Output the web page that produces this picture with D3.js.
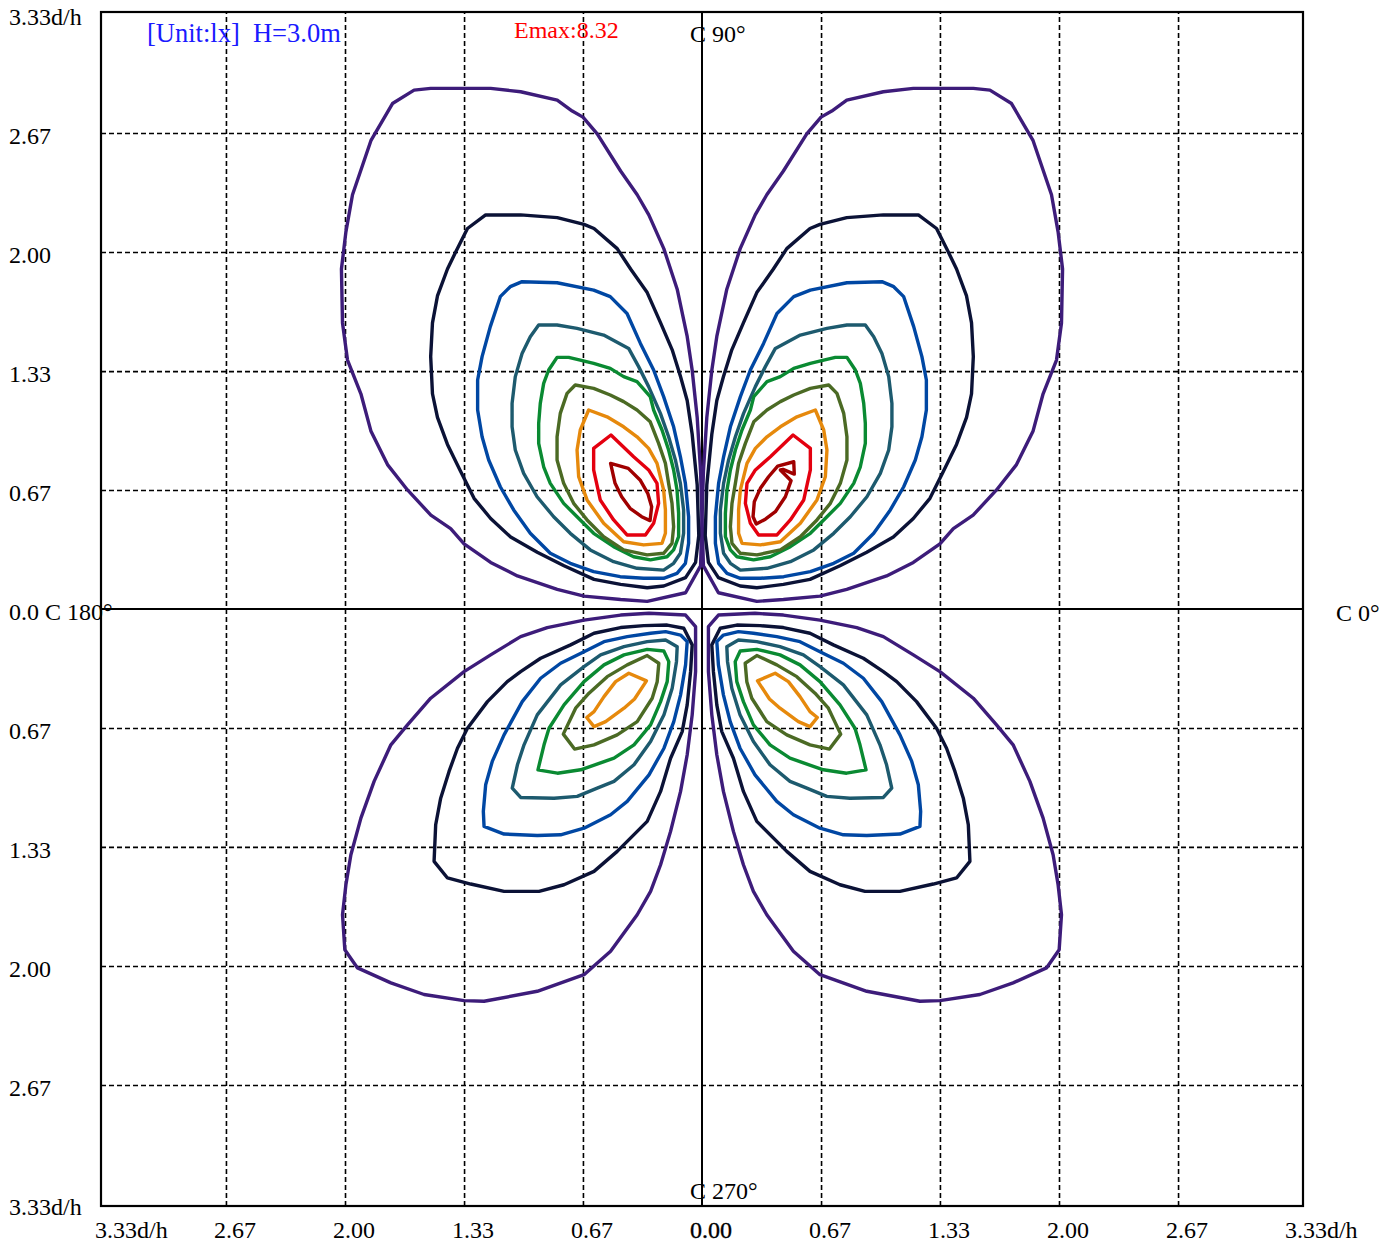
<!DOCTYPE html>
<html>
<head>
<meta charset="utf-8">
<script src="https://cdn.jsdelivr.net/npm/d3@7"></script>
<style>
  body { margin: 0; background: #fff; }
  svg text { font-family: "Liberation Serif", "Times New Roman", serif; font-size: 24px; }
</style>
</head>
<body>
<div class="iso_chart"></div>
<script>
// axis ticks (d/h)
var tickValues = [-3.333, -2.667, -2.0, -1.333, -0.667, 0, 0.667, 1.333, 2.0, 2.667, 3.333];
var xTickLabels = ["3.33d/h", "2.67", "2.00", "1.33", "0.67", "0.00", "0.67", "1.33", "2.00", "2.67", "3.33d/h"];
var yTickLabels = ["3.33d/h", "2.67", "2.00", "1.33", "0.67", "0.0 C 180°", "0.67", "1.33", "2.00", "2.67", "3.33d/h"];

var unitText = "[Unit:lx]  H=3.0m";
var emaxText = "Emax:8.32";
var cLabels = ["C 0°", "C 90°", "C 270°"];

// upper lobe (C 90 side), right half, outer -> inner, [x, y] in d/h
var upPurple = [[0.008,0.242],[0.092,0.091],[0.307,0.043],[0.456,0.053],[0.661,0.072],[0.811,0.110],[1.034,0.185],[1.184,0.261],[1.333,0.365],[1.408,0.450],[1.519,0.526],[1.650,0.667],[1.762,0.809],[1.855,0.998],[1.911,1.206],[1.986,1.395],[2.014,1.603],[2.020,1.905],[1.995,2.113],[1.958,2.321],[1.855,2.624],[1.734,2.832],[1.613,2.907],[1.520,2.917],[1.184,2.917],[1.016,2.898],[0.811,2.851],[0.727,2.790],[0.667,2.756],[0.587,2.662],[0.456,2.454],[0.363,2.321],[0.298,2.208],[0.214,2.019],[0.139,1.792],[0.083,1.527],[0.055,1.338],[0.027,1.074],[0.008,0.771],[0.0,0.507]];
var upNavy = [[0.605,2.132],[0.661,2.155],[0.811,2.193],[1.016,2.208],[1.212,2.208],[1.314,2.132],[1.380,2.000],[1.426,1.905],[1.482,1.754],[1.510,1.603],[1.520,1.414],[1.510,1.206],[1.482,1.074],[1.426,0.922],[1.352,0.771],[1.277,0.620],[1.184,0.507],[1.072,0.403],[0.923,0.318],[0.773,0.242],[0.605,0.166],[0.456,0.138],[0.307,0.119],[0.214,0.129],[0.092,0.176],[0.036,0.261],[0.018,0.412],[0.027,0.696],[0.055,0.979],[0.083,1.168],[0.120,1.301],[0.167,1.452],[0.232,1.603],[0.307,1.773],[0.400,1.905],[0.475,2.019]];
var upBlue = [[0.514,1.750],[0.607,1.787],[0.812,1.828],[1.008,1.834],[1.074,1.806],[1.130,1.750],[1.186,1.582],[1.232,1.414],[1.257,1.283],[1.257,1.115],[1.232,0.965],[1.195,0.835],[1.130,0.685],[1.055,0.555],[0.962,0.424],[0.850,0.312],[0.738,0.256],[0.607,0.209],[0.458,0.181],[0.327,0.172],[0.215,0.172],[0.140,0.200],[0.093,0.256],[0.075,0.368],[0.075,0.517],[0.093,0.704],[0.121,0.853],[0.159,1.021],[0.215,1.190],[0.271,1.339],[0.345,1.488],[0.420,1.656]];
var upTeal = [[0.411,1.460],[0.551,1.535],[0.700,1.572],[0.812,1.591],[0.915,1.591],[0.962,1.526],[1.008,1.432],[1.046,1.302],[1.064,1.152],[1.064,1.021],[1.046,0.891],[0.999,0.760],[0.924,0.629],[0.831,0.517],[0.738,0.424],[0.626,0.331],[0.495,0.265],[0.364,0.228],[0.215,0.218],[0.159,0.256],[0.121,0.312],[0.103,0.424],[0.103,0.555],[0.121,0.704],[0.149,0.835],[0.187,0.965],[0.233,1.096],[0.299,1.246],[0.355,1.358]];
var upGreen = [[0.290,1.190],[0.364,1.274],[0.439,1.302],[0.514,1.348],[0.607,1.376],[0.682,1.395],[0.747,1.410],[0.812,1.410],[0.859,1.339],[0.887,1.264],[0.906,1.152],[0.915,1.040],[0.915,0.928],[0.887,0.797],[0.850,0.704],[0.775,0.592],[0.700,0.517],[0.607,0.424],[0.495,0.349],[0.383,0.293],[0.289,0.275],[0.196,0.293],[0.159,0.331],[0.131,0.405],[0.131,0.536],[0.140,0.667],[0.159,0.779],[0.187,0.891],[0.224,1.003],[0.271,1.115]];
var upOlive = [[0.290,1.049],[0.364,1.115],[0.439,1.162],[0.514,1.199],[0.607,1.236],[0.710,1.255],[0.756,1.208],[0.794,1.096],[0.812,0.965],[0.812,0.835],[0.775,0.704],[0.719,0.592],[0.644,0.499],[0.551,0.405],[0.439,0.331],[0.308,0.303],[0.215,0.312],[0.168,0.368],[0.159,0.461],[0.168,0.592],[0.187,0.704],[0.205,0.816],[0.243,0.928]];
var upOrange = [[0.299,0.900],[0.364,0.965],[0.439,1.021],[0.532,1.077],[0.635,1.115],[0.682,1.003],[0.700,0.891],[0.691,0.741],[0.644,0.611],[0.551,0.480],[0.439,0.377],[0.327,0.359],[0.224,0.368],[0.205,0.424],[0.205,0.555],[0.215,0.667],[0.252,0.816]];
var upRed = [[0.383,0.853],[0.510,0.975],[0.607,0.900],[0.607,0.779],[0.570,0.611],[0.495,0.499],[0.420,0.415],[0.317,0.415],[0.271,0.480],[0.243,0.592],[0.252,0.704],[0.299,0.779]];
var upDarkRedRight = [[0.439,0.779],[0.499,0.719],[0.467,0.629],[0.411,0.545],[0.355,0.503],[0.304,0.476],[0.286,0.517],[0.293,0.601],[0.327,0.676],[0.373,0.741],[0.424,0.801],[0.514,0.825],[0.517,0.756],[0.454,0.782]];
// left half innermost ring (distance from the C90-C270 axis)
var upDarkRedLeft = [[0.512,0.816],[0.413,0.788],[0.347,0.723],[0.304,0.648],[0.282,0.573],[0.291,0.495],[0.338,0.517],[0.403,0.564],[0.450,0.629],[0.487,0.704]];

// lower lobe (C 270 side), right half, outer -> inner
var lowPurple = [[0.036,-0.099],[0.092,-0.034],[0.297,-0.024],[0.456,-0.034],[0.661,-0.062],[0.867,-0.104],[1.016,-0.155],[1.184,-0.257],[1.333,-0.351],[1.520,-0.500],[1.650,-0.649],[1.743,-0.761],[1.837,-0.966],[1.911,-1.172],[1.967,-1.377],[1.995,-1.545],[2.014,-1.713],[2.001,-1.909],[1.930,-2.011],[1.743,-2.095],[1.557,-2.160],[1.333,-2.194],[1.221,-2.198],[0.923,-2.142],[0.661,-2.049],[0.512,-1.918],[0.363,-1.713],[0.288,-1.582],[0.232,-1.433],[0.176,-1.246],[0.120,-1.022],[0.083,-0.817],[0.055,-0.593],[0.036,-0.351]];
var lowNavy = [[0.055,-0.201],[0.102,-0.108],[0.195,-0.090],[0.326,-0.093],[0.456,-0.104],[0.605,-0.136],[0.736,-0.201],[0.904,-0.276],[1.016,-0.351],[1.091,-0.407],[1.202,-0.519],[1.314,-0.668],[1.370,-0.780],[1.417,-0.910],[1.464,-1.060],[1.492,-1.209],[1.501,-1.414],[1.426,-1.507],[1.296,-1.541],[1.109,-1.582],[0.913,-1.582],[0.773,-1.545],[0.605,-1.470],[0.475,-1.358],[0.307,-1.190],[0.232,-1.022],[0.176,-0.836],[0.111,-0.687],[0.083,-0.537],[0.064,-0.351]];
var lowBlue = [[0.083,-0.183],[0.120,-0.146],[0.204,-0.127],[0.288,-0.136],[0.419,-0.155],[0.549,-0.183],[0.661,-0.239],[0.792,-0.304],[0.904,-0.388],[1.007,-0.519],[1.109,-0.705],[1.175,-0.854],[1.212,-0.985],[1.225,-1.134],[1.221,-1.218],[1.109,-1.261],[0.923,-1.269],[0.792,-1.265],[0.661,-1.228],[0.512,-1.153],[0.419,-1.078],[0.297,-0.929],[0.213,-0.780],[0.158,-0.631],[0.120,-0.481],[0.092,-0.313]];
var lowTeal = [[0.139,-0.211],[0.204,-0.174],[0.307,-0.183],[0.437,-0.211],[0.568,-0.257],[0.661,-0.323],[0.792,-0.425],[0.923,-0.593],[0.997,-0.761],[1.034,-0.873],[1.063,-1.004],[1.016,-1.056],[0.829,-1.060],[0.699,-1.050],[0.587,-1.004],[0.493,-0.966],[0.381,-0.873],[0.288,-0.743],[0.213,-0.593],[0.167,-0.444],[0.143,-0.295]];
var lowGreen = [[0.186,-0.295],[0.214,-0.235],[0.307,-0.226],[0.437,-0.257],[0.549,-0.313],[0.661,-0.407],[0.773,-0.537],[0.857,-0.668],[0.885,-0.761],[0.919,-0.901],[0.810,-0.920],[0.680,-0.901],[0.493,-0.836],[0.381,-0.761],[0.288,-0.649],[0.232,-0.519],[0.195,-0.407]];
var lowOlive = [[0.242,-0.304],[0.307,-0.261],[0.419,-0.313],[0.531,-0.379],[0.633,-0.472],[0.708,-0.556],[0.777,-0.701],[0.714,-0.785],[0.605,-0.761],[0.475,-0.705],[0.363,-0.631],[0.279,-0.500],[0.251,-0.407]];
var lowOrange = [[0.311,-0.403],[0.410,-0.360],[0.484,-0.407],[0.549,-0.491],[0.605,-0.575],[0.646,-0.608],[0.605,-0.659],[0.540,-0.631],[0.437,-0.556],[0.378,-0.504]];

var levelColors = ["#3d1c7a", "#0b1236", "#0047a3", "#1d5a6e", "#0a8a32", "#4b6a24", "#e6890c", "#e4000f", "#a00000"];

var upperRight = [upPurple, upNavy, upBlue, upTeal, upGreen, upOlive, upOrange, upRed, upDarkRedRight];
var upperLeft = [upPurple, upNavy, upBlue, upTeal, upGreen, upOlive, upOrange, upRed, upDarkRedLeft];
var lowerHalf = [lowPurple, lowNavy, lowBlue, lowTeal, lowGreen, lowOlive, lowOrange];

var W = 1392, H = 1246;
var plot = { left: 101, right: 1303, top: 12, bottom: 1206 };

var svg = d3
  .select(".iso_chart")
  .append("svg")
  .attr("width", W)
  .attr("height", H);

// 178.5 px per d/h, frame runs a little past the 3.33 tick
var x = d3.scaleLinear().domain([-3.367, 3.367]).range([plot.left, plot.right]);
var xm = d3.scaleLinear().domain([3.367, -3.367]).range([plot.left, plot.right]);
var y = d3.scaleLinear().domain([-3.345, 3.345]).range([plot.bottom, plot.top]);

var gridVals = tickValues.filter(function (v) {
  return Math.abs(v) > 0.1 && Math.abs(v) < 3;
});

// dashed grid
svg
  .append("g")
  .attr("class", "grid x")
  .attr("transform", "translate(0," + plot.bottom + ")")
  .call(d3.axisBottom(x).tickValues(gridVals).tickSize(-(plot.bottom - plot.top)).tickFormat(""))
  .call(function (g) { g.select(".domain").remove(); });

svg
  .append("g")
  .attr("class", "grid y")
  .attr("transform", "translate(" + plot.left + ",0)")
  .call(d3.axisLeft(y).tickValues(gridVals).tickSize(-(plot.right - plot.left)).tickFormat(""))
  .call(function (g) { g.select(".domain").remove(); });

svg.selectAll(".grid .tick line")
  .attr("stroke", "#000")
  .attr("stroke-width", 1.6)
  .attr("stroke-dasharray", "5,3");

// center axes
svg.append("line")
  .attr("x1", x(0)).attr("x2", x(0))
  .attr("y1", plot.top).attr("y2", plot.bottom)
  .attr("stroke", "#000").attr("stroke-width", 2);
svg.append("line")
  .attr("x1", plot.left).attr("x2", plot.right)
  .attr("y1", y(0)).attr("y2", y(0))
  .attr("stroke", "#000").attr("stroke-width", 2);

// contours
var lineR = d3.line()
  .x(function (d) { return x(d[0]); })
  .y(function (d) { return y(d[1]); })
  .curve(d3.curveLinearClosed);
var lineL = d3.line()
  .x(function (d) { return xm(d[0]); })
  .y(function (d) { return y(d[1]); })
  .curve(d3.curveLinearClosed);

function drawLobe(rings, gen, cls) {
  svg.append("g")
    .attr("class", cls)
    .selectAll("path")
    .data(rings)
    .enter()
    .append("path")
    .attr("d", gen)
    .attr("fill", "none")
    .attr("stroke", function (d, i) { return levelColors[i]; })
    .attr("stroke-width", 3.4)
    .attr("stroke-linejoin", "round");
}
drawLobe(upperRight, lineR, "lobe ur");
drawLobe(upperLeft, lineL, "lobe ul");
drawLobe(lowerHalf, lineR, "lobe lr");
drawLobe(lowerHalf, lineL, "lobe ll");

// frame
svg.append("rect")
  .attr("x", plot.left).attr("y", plot.top)
  .attr("width", plot.right - plot.left)
  .attr("height", plot.bottom - plot.top)
  .attr("fill", "none")
  .attr("stroke", "#000")
  .attr("stroke-width", 2.2);

// tick labels
svg.append("g")
  .selectAll("text")
  .data(tickValues)
  .enter()
  .append("text")
  .attr("x", function (d) { return x(d) - 12; })
  .attr("y", plot.bottom + 32)
  .attr("fill", "#000")
  .attr("stroke", function (d) { return d === 0 ? "#000" : "none"; })
  .attr("stroke-width", 0.35)
  .text(function (d, i) { return xTickLabels[i]; });

svg.append("g")
  .selectAll("text")
  .data(tickValues.slice().reverse())
  .enter()
  .append("text")
  .attr("x", 9)
  .attr("y", function (d) { return y(d) + 11; })
  .attr("fill", "#000")
  .text(function (d, i) { return yTickLabels[i]; });

// C-plane labels
svg.append("text").attr("x", 1336).attr("y", y(0) + 12).text(cLabels[0]);
svg.append("text").attr("x", x(0) - 12).attr("y", 42).text(cLabels[1]);
svg.append("text").attr("x", x(0) - 12).attr("y", 1199).text(cLabels[2]);

// header
svg.append("text")
  .attr("x", 147).attr("y", 42)
  .attr("fill", "#1a1aff")
  .style("font-size", "26.5px")
  .style("white-space", "pre")
  .text(unitText);
svg.append("text")
  .attr("x", 514).attr("y", 38)
  .attr("fill", "#ff0000")
  .text(emaxText);
</script>
</body>
</html>
